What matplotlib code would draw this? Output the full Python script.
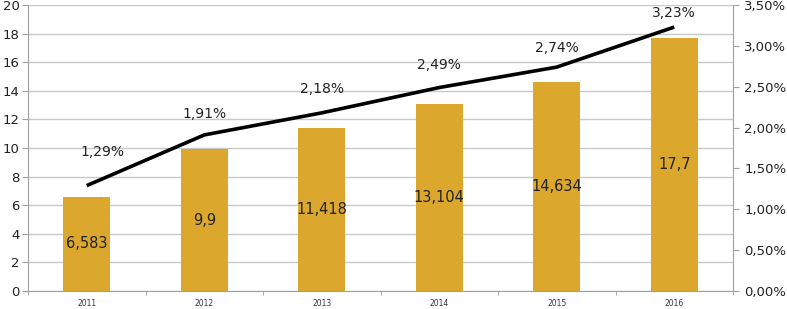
import matplotlib
matplotlib.use("Agg")
import matplotlib.pyplot as plt
import numpy as np
from matplotlib.ticker import FuncFormatter, MultipleLocator

years = ["2011", "2012", "2013", "2014", "2015", "2016"]
values = [6.583, 9.9, 11.418, 13.104, 14.634, 17.7]
value_labels = ["6,583", "9,9", "11,418", "13,104", "14,634", "17,7"]
share = [1.29, 1.91, 2.18, 2.49, 2.74, 3.23]
share_labels = ["1,29%", "1,91%", "2,18%", "2,49%", "2,74%", "3,23%"]

fig = plt.figure(figsize=(7.87, 3.09), dpi=100)
ax = fig.add_axes([28/787, 18/309, (733-28)/787, (291-5)/309])
x = np.arange(len(years))
bar_color = "#DBA72C"
ax.bar(x, values, width=0.4, color=bar_color, zorder=2)
ax.set_xlim(-0.5, len(years) - 0.5)
ax.set_ylim(0, 20)
ax.yaxis.set_major_locator(MultipleLocator(2))
ax.grid(axis="y", color="#C8C8C8", linewidth=1, zorder=0)
ax.set_axisbelow(True)
for s in ["top", "right"]:
    ax.spines[s].set_visible(False)
ax.spines["left"].set_color("#A0A0A0")
ax.spines["bottom"].set_color("#A0A0A0")
ax.set_xticks(x)
ax.set_xticklabels(years, fontsize=5.5, color="#333333")
ax.set_xticks(np.arange(len(years) + 1) - 0.5, minor=True)
ax.tick_params(axis="x", which="major", length=0, pad=6)
ax.tick_params(axis="x", which="minor", length=3, color="#A0A0A0")
ax.tick_params(axis="y", labelsize=9.5, length=4, color="#A0A0A0", pad=2, labelcolor="#222222")

for xi, v, lab in zip(x, values, value_labels):
    ax.text(xi, v / 2, lab, ha="center", va="center", fontsize=10.5, color="#222222", zorder=3)

ax2 = ax.twinx()
ax2.set_ylim(0, 3.5)
ax2.yaxis.set_major_locator(MultipleLocator(0.5))
ax2.yaxis.set_major_formatter(FuncFormatter(lambda v, p: f"{v:.2f}".replace(".", ",") + "%"))
for s in ["top", "left", "bottom"]:
    ax2.spines[s].set_visible(False)
ax2.spines["right"].set_color("#A0A0A0")
ax2.tick_params(axis="y", labelsize=9.5, length=4, color="#A0A0A0", pad=4, labelcolor="#222222")
ax2.plot(x, share, color="black", linewidth=2.6, zorder=4, solid_capstyle="butt")
offsets = [(11, 24), (0, 15), (0, 17), (0, 16), (0, 14), (0, 10)]
for xi, s, lab, off in zip(x, share, share_labels, offsets):
    ax2.annotate(lab, (xi, s), xytext=off, textcoords="offset points",
                 ha="center", va="center", fontsize=10, color="#222222")

fig.savefig("out.png", dpi=100)
